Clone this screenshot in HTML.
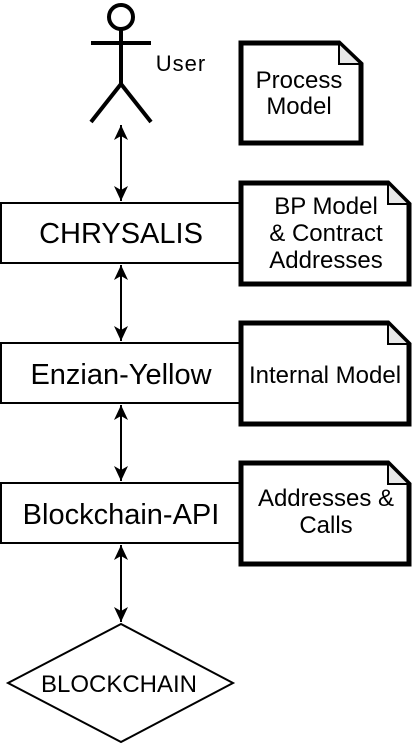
<!DOCTYPE html>
<html><head><style>body{margin:0;background:#fff}svg{display:block}</style></head><body>
<svg width="416" height="744" viewBox="0 0 416 744" xmlns="http://www.w3.org/2000/svg" font-family="Liberation Sans, sans-serif">
<defs>
<marker id="b" markerWidth="16" markerHeight="14" refX="15" refY="7" orient="auto-start-reverse" markerUnits="userSpaceOnUse"><path d="M0,0 L15,7 L0,14 L4,7 Z" fill="#000"/></marker></defs>
<g stroke="#000" stroke-width="4" fill="none">
<circle cx="121" cy="17" r="12" fill="#fff"/>
<line x1="121" y1="29" x2="121" y2="84"/>
<line x1="91" y1="43" x2="151" y2="43"/>
<polyline points="91,122 121,84 151,122"/>
</g>
<g stroke="#000" stroke-width="2" marker-start="url(#b)" marker-end="url(#b)">
<line x1="121" y1="125" x2="121" y2="201"/>
<line x1="121" y1="265" x2="121" y2="341"/>
<line x1="121" y1="405" x2="121" y2="481"/>
<line x1="121" y1="545" x2="121" y2="622"/>
</g>
<g stroke="#000" stroke-width="2" fill="#fff">
<rect x="1" y="203" width="239" height="60"/>
<rect x="1" y="343" width="239" height="60"/>
<rect x="1" y="483" width="239" height="60"/>
<polygon points="121,624 233,683 121,742 8,683"/>
</g>
<g stroke="#000" stroke-width="5" fill="#fff" stroke-linejoin="miter">
<path d="M241,43 H339 L361,64 V143 H241 Z"/>
<path d="M241,183 H388 L409,204 V284 H241 Z"/>
<path d="M241,323 H388 L409,344 V424 H241 Z"/>
<path d="M241,463 H388 L409,484 V564 H241 Z"/>
</g>
<g fill="#e8e8e8" stroke="#000" stroke-width="2">
<path d="M339,43 L361,64 H339 Z"/>
<path d="M388,183 L409,204 H388 Z"/>
<path d="M388,323 L409,344 H388 Z"/>
<path d="M388,463 L409,484 H388 Z"/>
</g>
<g fill="#000" text-anchor="middle" font-size="24">
<text x="181" y="71" font-size="22" letter-spacing="1">User</text>
<text x="299" y="88">Process</text>
<text x="299" y="114">Model</text>
<text x="121" y="243" font-size="29">CHRYSALIS</text>
<text x="326" y="214">BP Model</text>
<text x="326" y="241">&amp; Contract</text>
<text x="326" y="268">Addresses</text>
<text x="121" y="384" font-size="29">Enzian-Yellow</text>
<text x="325" y="383">Internal Model</text>
<text x="121" y="524" font-size="29">Blockchain-API</text>
<text x="326" y="506">Addresses &amp;</text>
<text x="326" y="533">Calls</text>
<text x="119" y="692">BLOCKCHAIN</text>
</g>
</svg>
</body></html>
